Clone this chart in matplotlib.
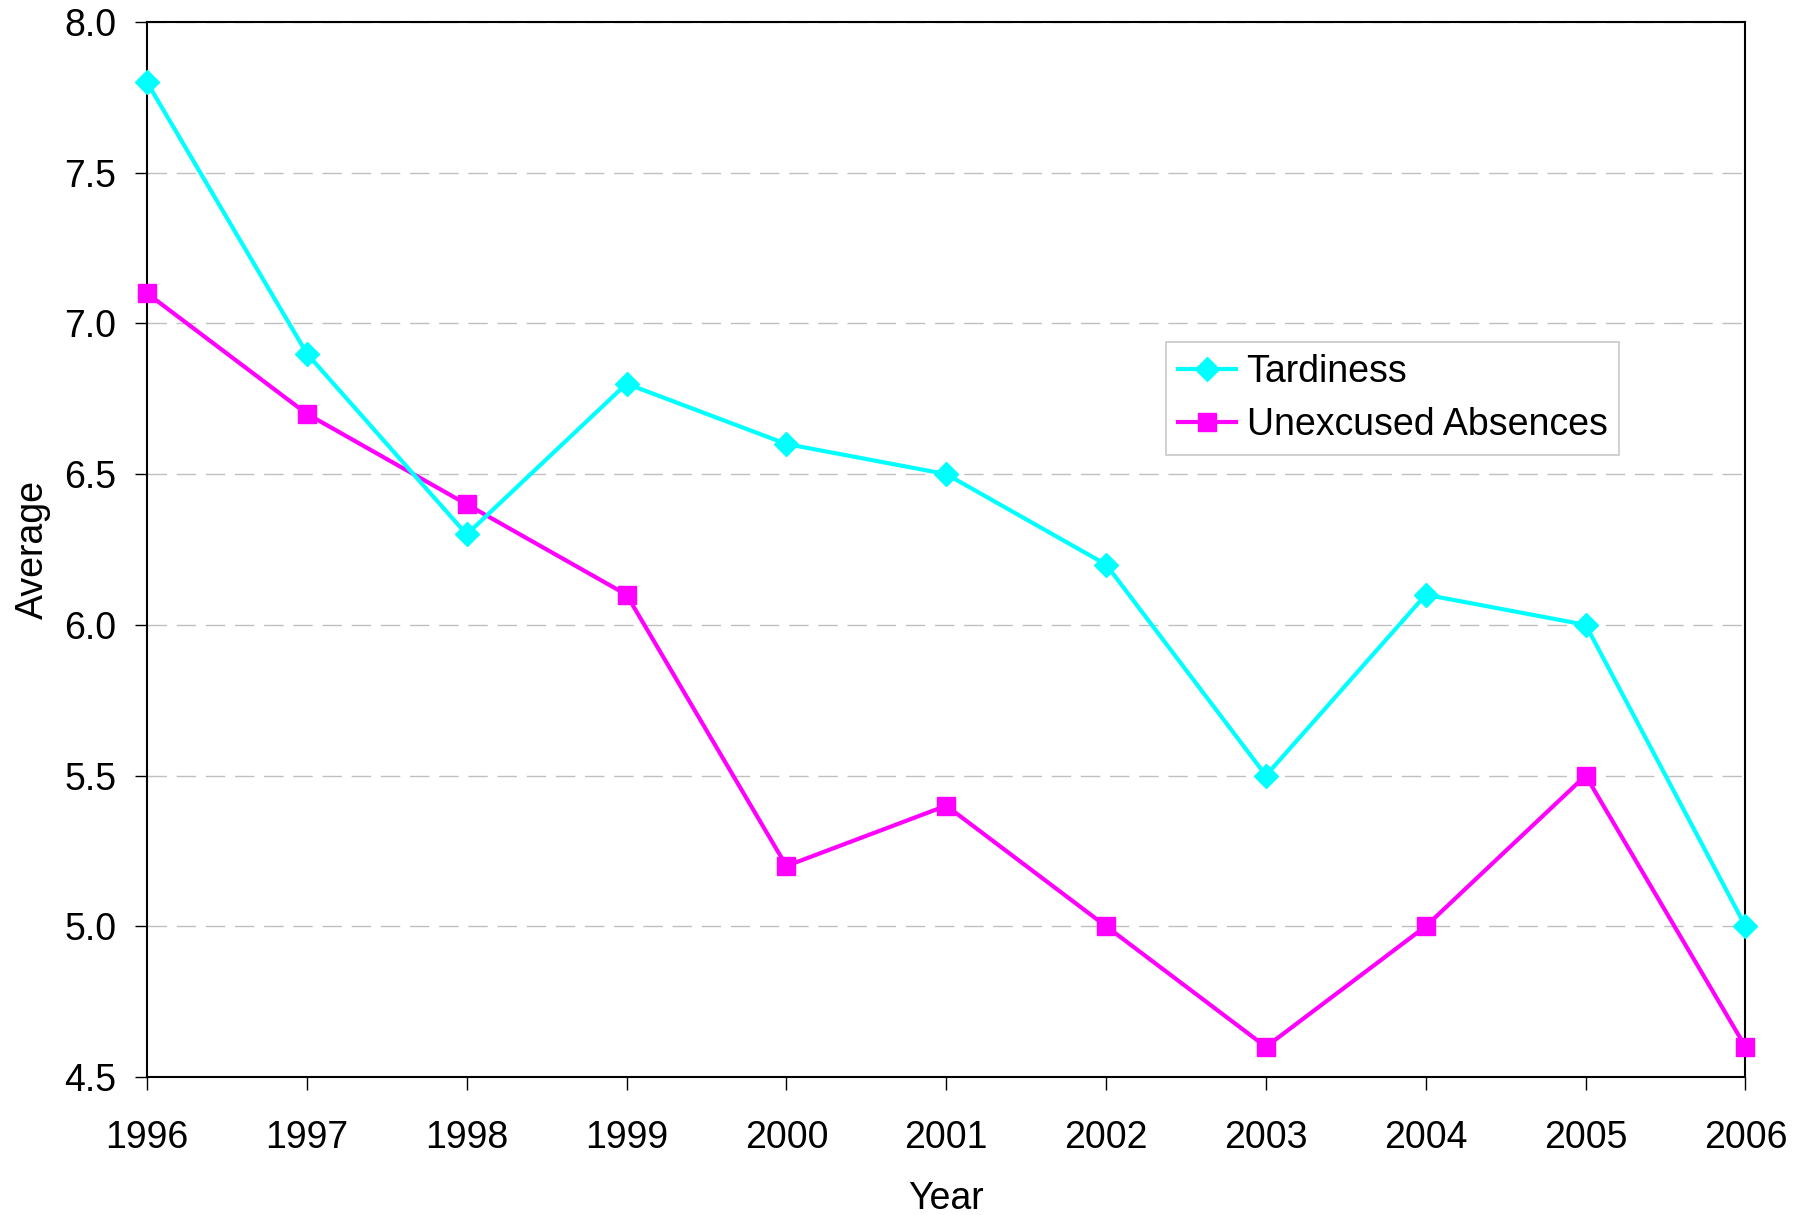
import matplotlib.pyplot as plt

plt.rcParams["font.family"] = ["Liberation Sans", "DejaVu Sans"]

years = [1996, 1997, 1998, 1999, 2000, 2001, 2002, 2003, 2004, 2005, 2006]
tardiness = [7.8, 6.9, 6.3, 6.8, 6.6, 6.5, 6.2, 5.5, 6.1, 6.0, 5.0]
unexcused = [7.1, 6.7, 6.4, 6.1, 5.2, 5.4, 5.0, 4.6, 5.0, 5.5, 4.6]
y_ticks = [4.5, 5.0, 5.5, 6.0, 6.5, 7.0, 7.5, 8.0]

fig = plt.figure(figsize=(17.93, 12.15), dpi=100)
ax = fig.add_axes([0.082, 0.1136, 0.8915, 0.8683])

ax.plot(years, tardiness, color="#00FFFF", linewidth=3, marker="D",
        markersize=12, label="Tardiness", zorder=4, clip_on=False)
ax.plot(years, unexcused, color="#FF00FF", linewidth=3, marker="s",
        markersize=13, label="Unexcused Absences", zorder=3, clip_on=False)

ax.set_xlim(1996, 2006)
ax.set_ylim(4.5, 8.0)
ax.set_xticks(years)
ax.set_yticks(y_ticks)
ax.set_yticklabels([f"{v:.1f}" for v in y_ticks])

ax.yaxis.grid(True, color="#c0c0c0", linewidth=1.0, linestyle=(0, (14, 7)))
ax.set_axisbelow(True)

for s in ax.spines.values():
    s.set_linewidth(1.5)
    s.set_color("black")

ax.tick_params(axis="both", direction="out", length=9, width=1.0,
               labelsize=27, color="black")
ax.tick_params(axis="x", pad=22)
ax.tick_params(axis="y", pad=13)

ax.set_xlabel("Year", fontsize=27, labelpad=18)
ax.set_ylabel("Average", fontsize=27, labelpad=10)

leg = ax.legend(loc="upper left", bbox_to_anchor=(0.6377, 0.6967),
                borderaxespad=0, fontsize=27, fancybox=False,
                edgecolor="#c8c8c8", framealpha=1, handlelength=1.55,
                handletextpad=0.27, labelspacing=0.45, borderpad=0.32)
leg.get_frame().set_linewidth(1.2)

fig.savefig("out.png", dpi=100)
